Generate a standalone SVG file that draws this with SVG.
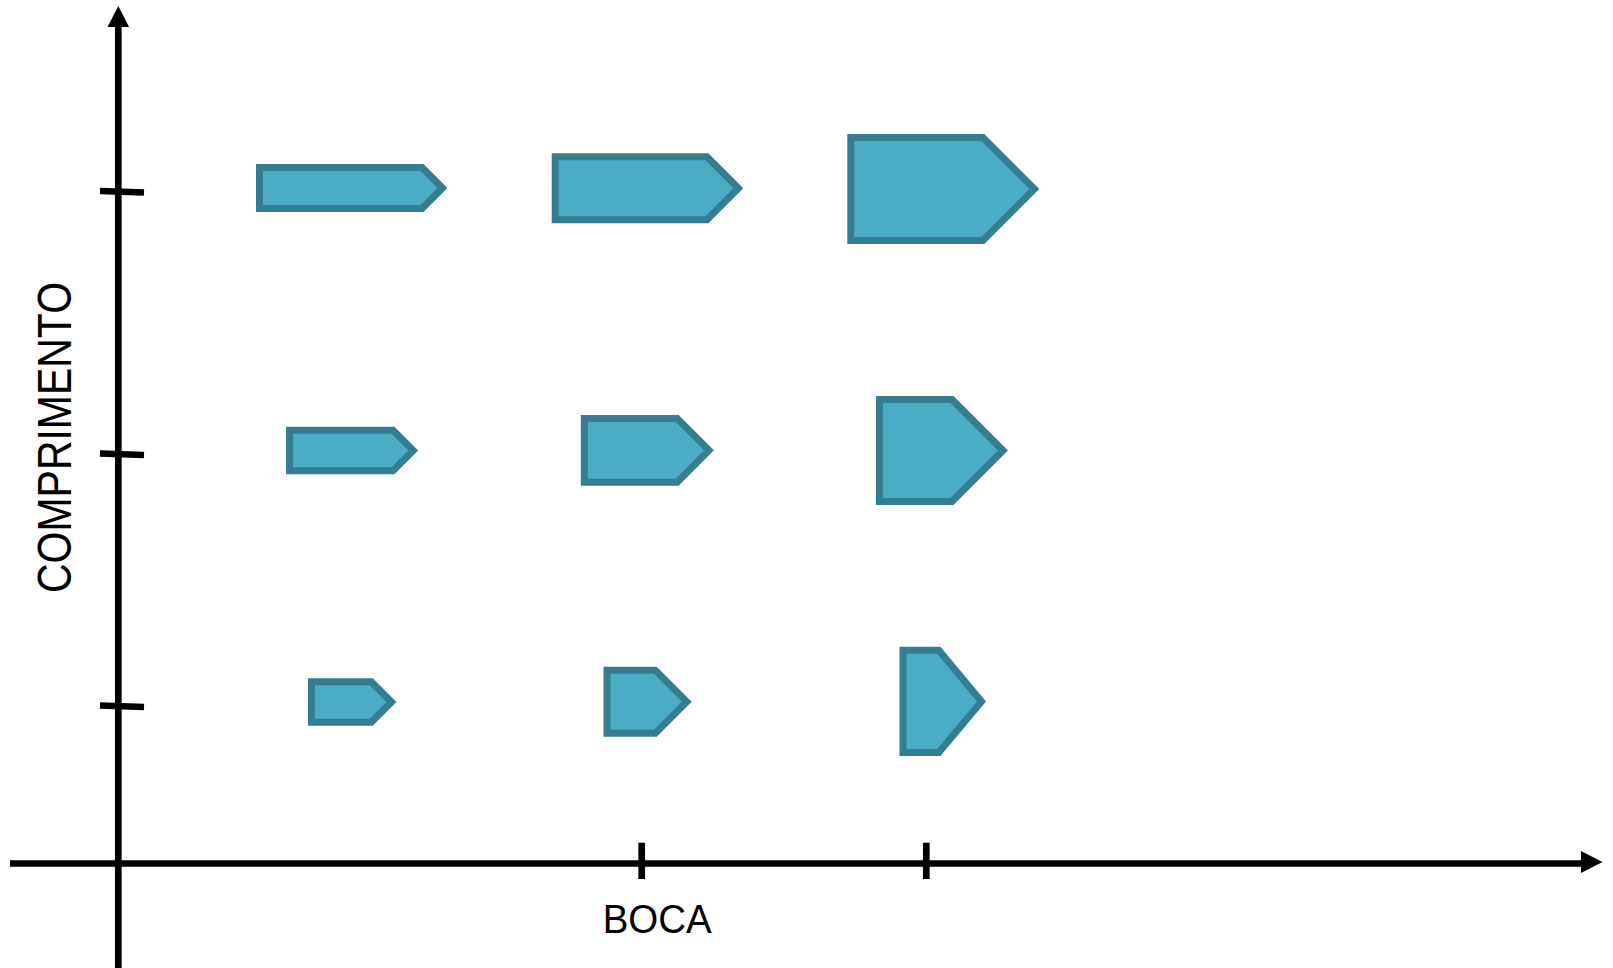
<svg xmlns="http://www.w3.org/2000/svg" width="1613" height="968" viewBox="0 0 1613 968">
<style>
.ax{stroke:#000;stroke-width:6.7;fill:none}
.tk{stroke:#000;stroke-width:6.7;fill:none}
.sh{fill:#4bacc6;stroke:#357d91;stroke-width:7;stroke-linejoin:miter;stroke-miterlimit:10}
.lbl{font-family:"Liberation Sans",Arial,sans-serif;fill:#000}
</style>
<rect width="1613" height="968" fill="#fff"/>
<g id="axes">
<line class="ax" x1="118.3" y1="968" x2="118.3" y2="24"/>
<polygon points="118.3,6 107.5,27 129.1,27" fill="#000"/>
<line class="ax" x1="10" y1="863.5" x2="1584" y2="863.5"/>
<polygon points="1602.5,862 1581,851 1581,873" fill="#000"/>
<line class="tk" x1="100" y1="191" x2="144" y2="192.5"/>
<line class="tk" x1="100" y1="453.5" x2="144" y2="455"/>
<line class="tk" x1="100" y1="705.5" x2="144" y2="707"/>
<line class="tk" x1="641.7" y1="842.7" x2="641.7" y2="879"/>
<line class="tk" x1="926.3" y1="842.7" x2="926.3" y2="879"/>
</g>
<g id="labels">
<text class="lbl" x="602.7" y="932.7" font-size="41" textLength="109" lengthAdjust="spacingAndGlyphs">BOCA</text>
<text class="lbl" transform="translate(70.7,593) rotate(-90)" font-size="49" textLength="311" lengthAdjust="spacingAndGlyphs">COMPRIMENTO</text>
</g>
<g id="n1"><polygon class="sh" points="259.5,167.5 422,167.5 442.5,188 422,208.5 259.5,208.5"/></g>
<g id="n2"><polygon class="sh" points="555.2,156.8 706.9,156.8 738.4,188.3 706.9,219.8 555.2,219.8"/></g>
<g id="n3"><polygon class="sh" points="850.8,137.5 982.9,137.5 1034.4,189 982.9,240.5 850.8,240.5"/></g>
<g id="n4"><polygon class="sh" points="289.5,430.2 393,430.2 413.3,450.5 393,470.8 289.5,470.8"/></g>
<g id="n5"><polygon class="sh" points="584.3,418.5 677.2,418.5 709,450.3 677.2,482.2 584.3,482.2"/></g>
<g id="n6"><polygon class="sh" points="879.5,399.5 952,399.5 1003,450.5 952,501.5 879.5,501.5"/></g>
<g id="n7"><polygon class="sh" points="311.5,681.8 371.3,681.8 391.5,702 371.3,722.2 311.5,722.2"/></g>
<g id="n8"><polygon class="sh" points="607,670.2 655.3,670.2 686.8,701.7 655.3,733.2 607,733.2"/></g>
<g id="n9"><polygon class="sh" points="903,650.2 938.8,650.2 981.5,701.4 938.8,752.5 903,752.5"/></g>
</svg>
